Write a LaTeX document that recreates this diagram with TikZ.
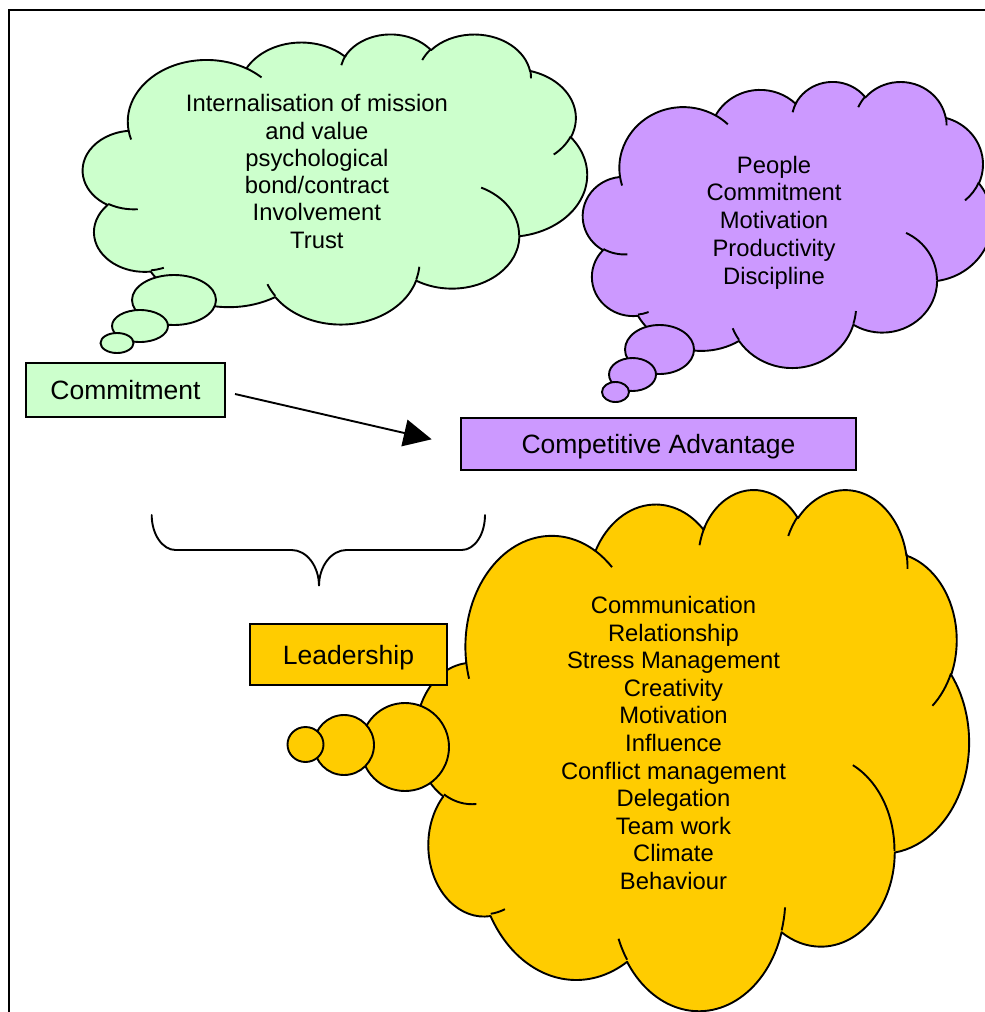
\documentclass[tikz,border=0pt]{standalone}
\usepackage{fontspec}
\setmainfont{Liberation Sans}
\usetikzlibrary{arrows.meta}

\definecolor{mintfill}{HTML}{CCFFCC}
\definecolor{lilacfill}{HTML}{CC99FF}
\definecolor{goldfill}{HTML}{FFCC00}

% Cloud outline on a 43.2 x 43.2 grid, built from elliptic lobes.
% Angles are given as visual angles and turned into parametric ones.
\newcommand\cloudoutline{}
\newcommand\cloudcreases{}
\newcommand\addlobe[4]{% rx, ry, start, sweep
  \pgfmathsetmacro\lobestart{atan2(#1*sin(#3),#2*cos(#3))}%
  \pgfmathsetmacro\lobedelta{mod(atan2(#1*sin(#3+#4),#2*cos(#3+#4))-\lobestart+720,360)}%
  \xdef\cloudoutline{\cloudoutline arc[x radius=#1pt,y radius=#2pt,start angle=\lobestart,delta angle=\lobedelta]}}
\newcommand\addcrease[6]{% x, y, rx, ry, start, sweep
  \pgfmathsetmacro\lobestart{atan2(#3*sin(#5),#4*cos(#5))}%
  \pgfmathsetmacro\lobedelta{mod(atan2(#3*sin(#5+#6),#4*cos(#5+#6))-\lobestart+720,360)}%
  \xdef\cloudcreases{\cloudcreases (#1,#2) arc[x radius=#3pt,y radius=#4pt,start angle=\lobestart,delta angle=\lobedelta]}}

\addlobe{6.753}{9.190}{-190.4875}{123.7805}
\addlobe{5.333}{7.267}{-144.1024}{89.9452}
\addlobe{4.365}{5.945}{-145.8079}{99.7230}
\addlobe{4.857}{6.595}{-130.9861}{117.2417}
\addlobe{5.333}{7.273}{-78.7089}{109.0269}
\addlobe{6.775}{9.220}{-46.2673}{130.2690}
\addlobe{5.785}{7.867}{0.6250}{114.0333}
\addlobe{6.752}{9.215}{22.4516}{115.1726}
\addlobe{7.720}{10.543}{66.2426}{75.7110}
\addlobe{4.360}{5.918}{-274.9421}{146.7356}
\addlobe{4.345}{5.945}{-246.8285}{152.5189}

\addcrease{4.693}{26.177}{4.345}{5.945}{86.7420}{26.4295}
\addcrease{6.928}{34.899}{4.360}{5.918}{73.6105}{11.4475}
\addcrease{16.478}{39.090}{6.752}{9.215}{137.6242}{14.0811}
\addcrease{28.827}{34.751}{6.752}{9.215}{6.4533}{15.9984}
\addcrease{34.129}{22.954}{5.785}{7.867}{-70.2924}{70.9174}
\addcrease{41.798}{15.354}{5.333}{7.273}{30.3180}{27.7515}
\addcrease{38.324}{5.426}{4.857}{6.595}{-13.7443}{14.8589}
\addcrease{29.078}{3.952}{4.857}{6.595}{-149.1815}{18.1954}
\addcrease{22.141}{4.720}{4.365}{5.945}{-163.4943}{19.5061}
\addcrease{14.000}{5.192}{6.753}{9.190}{-66.7070}{12.3194}
\addcrease{4.127}{15.789}{6.753}{9.190}{157.6544}{11.8582}

% x, y of the top-left corner, width, height, fill colour
\newcommand\thoughtcloud[5]{%
  \begin{scope}[shift={(#1,#2)}, xscale=#3/43.2, yscale=#4/43.2]
    \draw[cloudline, fill=#5] (3.9,14.37) \cloudoutline -- cycle;
    \draw[cloudline] \cloudcreases;
  \end{scope}}

\begin{document}
\begin{tikzpicture}[x=1pt, y=1pt, yscale=-1,
  cloudline/.style={line width=1.9pt, line join=round},
  bubble/.style={draw, line width=1.9pt},
  labelbox/.style={draw, line width=1.9pt, inner sep=0pt,
    font=\fontsize{26.5}{30}\selectfont, text height=19pt, text depth=0pt},
  cloudtext/.style={align=center, inner sep=0pt},
  link/.style={line width=1.9pt, -{Triangle[length=28pt, width=27pt]}},
  brace/.style={line width=1.9pt, line cap=round}]

\useasboundingbox (0,0) rectangle (985,1012);
\clip (0,0) rectangle (985,1012);
\fill[white] (0,0) rectangle (985,1012);

% page frame
\draw[line width=2pt] (9,10) rectangle (1200,1200);

% green thought
\thoughtcloud{83}{33.5}{504}{290}{mintfill}
\draw[bubble, fill=mintfill] (174,300) ellipse [x radius=42pt, y radius=25pt];
\draw[bubble, fill=mintfill] (140,326) ellipse [x radius=28pt, y radius=16pt];
\draw[bubble, fill=mintfill] (117,343) ellipse [x radius=16.5pt, y radius=10pt];
\node[cloudtext, font=\fontsize{23.8}{27.3}\selectfont] (commitNotes) at (316.9,171.5)
  {Internalisation of mission\\and value\\psychological\\bond/contract\\Involvement\\Trust};

% purple thought
\thoughtcloud{583}{81}{409}{286}{lilacfill}
\draw[bubble, fill=lilacfill] (659.5,349.5) ellipse [x radius=34.5pt, y radius=24.5pt];
\draw[bubble, fill=lilacfill] (632.5,374.5) ellipse [x radius=23.5pt, y radius=16.5pt];
\draw[bubble, fill=lilacfill] (615.5,392) ellipse [x radius=13.5pt, y radius=10pt];
\node[cloudtext, font=\fontsize{23.8}{27.7}\selectfont] (advantageNotes) at (774,222.5)
  {People\\Commitment\\Motivation\\Productivity\\Discipline};

% yellow thought
\thoughtcloud{416.3}{488.3}{552.6}{521}{goldfill}
\draw[bubble, fill=goldfill] (405,747) circle [radius=44pt];
\draw[bubble, fill=goldfill] (344,745) circle [radius=30pt];
\draw[bubble, fill=goldfill] (305.5,744.5) ellipse [x radius=18pt, y radius=17.5pt];
\node[cloudtext, font=\fontsize{23.8}{27.6}\selectfont] (leadNotes) at (673.5,743)
  {Communication\\Relationship\\Stress Management\\Creativity\\Motivation\\Influence\\Conflict management\\Delegation\\Team work\\Climate\\Behaviour};

% labelled boxes
\node[labelbox, fill=mintfill, minimum width=199pt, minimum height=54pt] (commitBox) at (125.5,390) {Commitment};
\node[labelbox, fill=lilacfill, minimum width=395pt, minimum height=52pt] (advantageBox) at (658.5,444) {Competitive Advantage};
\node[labelbox, fill=goldfill, minimum width=197pt, minimum height=61pt] (leadBox) at (348.5,654.5) {Leadership};

% arrow from commitment towards competitive advantage
\coordinate (arrowTail) at (235,394);
\coordinate (arrowHead) at (431.7,439.3);
\draw[link] (arrowTail) -- (arrowHead);

% brace
\draw[brace] (151.7,515) .. controls (151.7,534.3) and (162.5,550) .. (175.5,550)
  -- (291.7,550) .. controls (306.5,550) and (319,566) .. (319,586)
  .. controls (319,566) and (331.5,550) .. (346.5,550)
  -- (461.7,550) .. controls (474.7,550) and (485,534.3) .. (485,515);
\end{tikzpicture}
\end{document}
